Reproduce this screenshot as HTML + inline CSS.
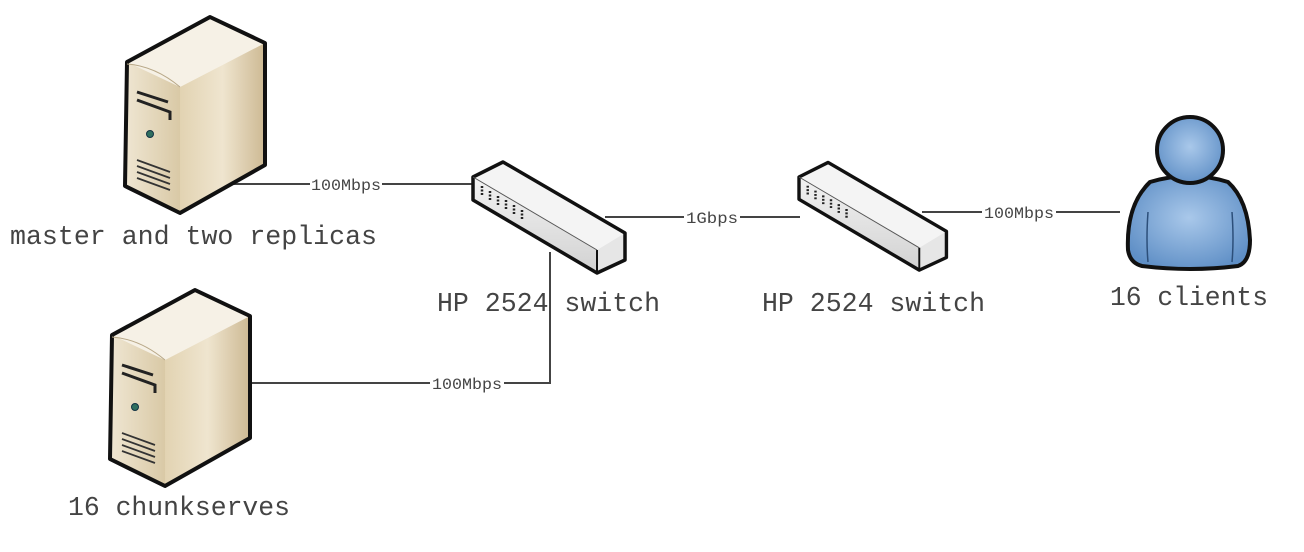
<!DOCTYPE html>
<html><head><meta charset="utf-8"><style>
html,body{margin:0;padding:0;background:#fff;}
svg{display:block;}
text{font-family:"Liberation Mono","Noto Serif CJK SC",monospace;fill:#444;}
</style></head><body>
<svg width="1304" height="552" viewBox="0 0 1304 552" xmlns="http://www.w3.org/2000/svg">
<defs>
<linearGradient id="sf" x1="0" y1="0" x2="1" y2="0"><stop offset="0" stop-color="#efe6d2"/><stop offset="1" stop-color="#d9c9a6"/></linearGradient>
<linearGradient id="ss" x1="0" y1="0" x2="1" y2="0"><stop offset="0" stop-color="#e2d3b2"/><stop offset="0.5" stop-color="#efe5cf"/><stop offset="1" stop-color="#cdb993"/></linearGradient>
<linearGradient id="wf" x1="0" y1="0" x2="0" y2="1"><stop offset="0" stop-color="#f2f2f2"/><stop offset="1" stop-color="#d2d2d2"/></linearGradient>
<radialGradient id="pb" cx="0.5" cy="0.45" r="0.6"><stop offset="0" stop-color="#a9c8ea"/><stop offset="1" stop-color="#5f8fc6"/></radialGradient>
<g id="server">
<polygon points="127,62 210,17 265,43 180,87" fill="#f6f1e6"/>
<polygon points="127,62 180,87 180,213 125,186" fill="url(#sf)"/>
<polygon points="180,87 265,43 265,165 180,213" fill="url(#ss)"/>
<polygon points="127,62 210,17 265,43 265,165 180,213 125,186" fill="none" stroke="#111" stroke-width="4" stroke-linejoin="round"/>
<path d="M127,64 Q155,66 180,87" fill="none" stroke="#b8a888" stroke-width="1"/>
<path d="M137,92 L168,102 M137,100 L170,112 L170,120" fill="none" stroke="#222" stroke-width="3"/>
<circle cx="150" cy="134" r="3.5" fill="#2f6f5f" stroke="#134" stroke-width="1"/>
<path d="M137,160 L170,172 M137,166 L170,178 M137,172 L170,184 M137,178 L170,190" stroke="#333" stroke-width="1.8"/>
</g>
<g id="switch">
<polygon points="473,177 503,162 625,233 597,250" fill="#f4f4f4"/>
<polygon points="473,177 597,250 597,273 473,200" fill="url(#wf)"/>
<polygon points="597,250 625,233 625,260 597,273" fill="#e6e6e6"/>
<polygon points="473,177 503,162 625,233 625,260 597,273 473,200" fill="none" stroke="#111" stroke-width="3.5" stroke-linejoin="round"/>
<line x1="597" y1="250" x2="597" y2="273" stroke="#111" stroke-width="2"/>
<line x1="473" y1="177" x2="597" y2="250" stroke="#555" stroke-width="1"/>
<g stroke="#222" stroke-width="2.5" stroke-dasharray="2,1.5">
<line x1="482" y1="186" x2="482" y2="196"/><line x1="490" y1="191" x2="490" y2="201"/><line x1="498" y1="196" x2="498" y2="206"/><line x1="506" y1="200" x2="506" y2="210"/><line x1="514" y1="205" x2="514" y2="215"/><line x1="522" y1="210" x2="522" y2="220"/>
</g>
</g>
</defs>

<g stroke="#444" stroke-width="2" fill="none">
<line x1="225" y1="184" x2="473" y2="184"/>
<line x1="605" y1="217" x2="800" y2="217"/>
<line x1="922" y1="212" x2="1120" y2="212"/>
<polyline points="250,383 550,383 550,252"/>
</g>
<g font-size="16" style="font-family:'Liberation Serif',serif">
<rect x="310" y="176" width="72" height="16" fill="#fff"/><text x="311" y="190" textLength="70" lengthAdjust="spacingAndGlyphs">100Mbps</text>
<rect x="684" y="209" width="56" height="16" fill="#fff"/><text x="686" y="223" textLength="52" lengthAdjust="spacingAndGlyphs">1Gbps</text>
<rect x="982" y="204" width="74" height="16" fill="#fff"/><text x="984" y="218" textLength="70" lengthAdjust="spacingAndGlyphs">100Mbps</text>
<rect x="430" y="375" width="74" height="16" fill="#fff"/><text x="432" y="389" textLength="70" lengthAdjust="spacingAndGlyphs">100Mbps</text>
</g>

<use href="#server"/>
<use href="#server" transform="translate(-15,273)"/>
<use href="#switch"/>
<use href="#switch" transform="translate(799,177) scale(0.97) translate(-473,-177)"/>

<path d="M1150,182 Q1190,170 1228,182 Q1248,200 1250,240 Q1250,262 1238,266 Q1190,272 1142,266 Q1130,263 1128,250 Q1126,205 1150,182 Z" fill="url(#pb)" stroke="#111" stroke-width="4"/>
<path d="M1148,212 Q1146,240 1148,262 M1232,212 Q1234,240 1232,262" fill="none" stroke="#2c4f7a" stroke-width="1.5"/>
<circle cx="1190" cy="150" r="33" fill="url(#pb)" stroke="#111" stroke-width="4"/>

<g font-size="27">
<text x="10" y="244" textLength="367" lengthAdjust="spacingAndGlyphs">master and two replicas</text>
<text x="437" y="311" textLength="223" lengthAdjust="spacingAndGlyphs">HP 2524 switch</text>
<text x="762" y="311" textLength="223" lengthAdjust="spacingAndGlyphs">HP 2524 switch</text>
<text x="1110" y="305" textLength="158" lengthAdjust="spacingAndGlyphs">16 clients</text>
<text x="68" y="515" textLength="222" lengthAdjust="spacingAndGlyphs">16 chunkserves</text>
</g>
</svg>
</body></html>
